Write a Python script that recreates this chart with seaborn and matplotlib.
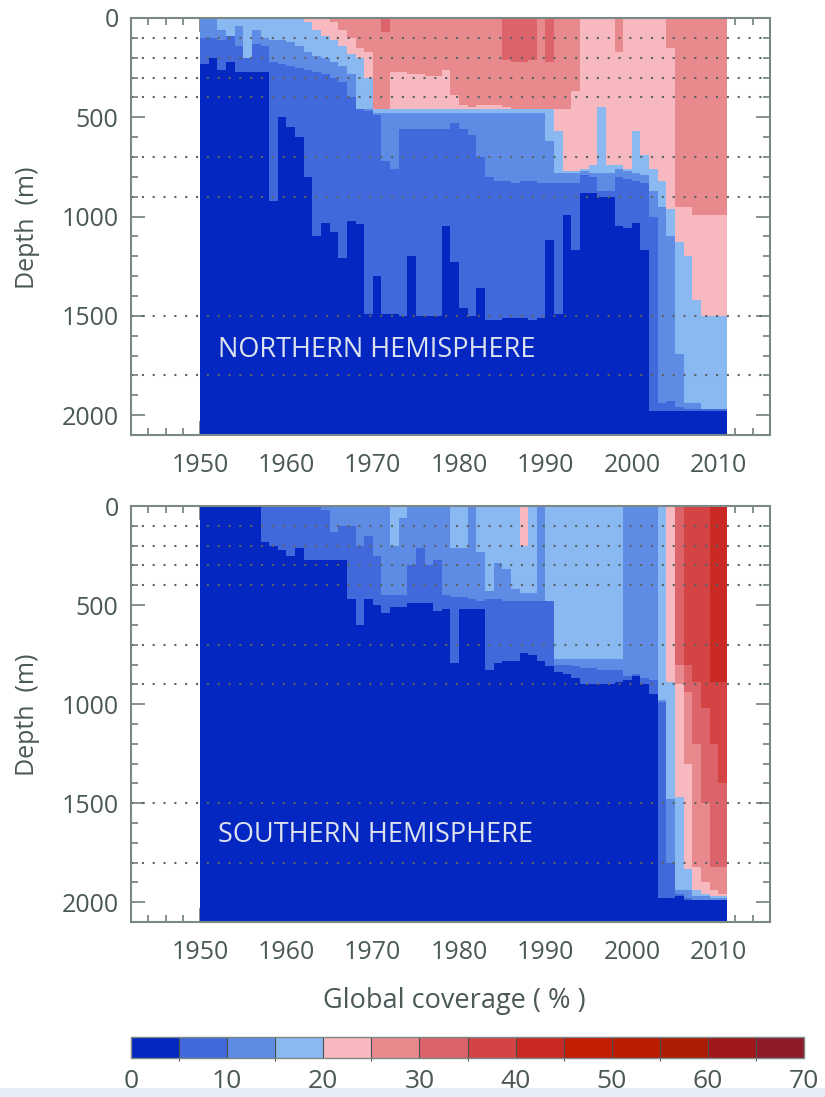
import numpy as np
import pandas as pd
import seaborn as sns
import matplotlib.pyplot as plt
from matplotlib.colors import ListedColormap, BoundaryNorm
from matplotlib.patches import Rectangle

years = list(range(1950, 2011))
x_start, x_end = 1942, 2016
depth_ticks = [0, 500, 1000, 1500, 2000]
dotted_depths = [100, 200, 300, 400, 700, 900, 1500, 1800]
class_edges = list(range(0, 75, 5))
cbar_ticks = [0, 10, 20, 30, 40, 50, 60, 70]
colors = ['#0327c0', '#4169db', '#5e8be3', '#8ab8f0', '#f7b8c0', '#e8898e',
          '#dc636a', '#d44444', '#c92a24', '#c51d02', '#ba1c00', '#ad1c04',
          '#a0181a', '#8e1a2a']

# northern hemisphere: depth (m) down to which coverage stays >= 5, 10, 15 ... %
nh_5 = [233, 205, 263, 222, 275, 275, 275, 275, 917, 500,
        550, 600, 800, 1105, 1026, 1076, 1206, 1018, 1038, 1488,
        1300, 1488, 1488, 1496, 1199, 1496, 1496, 1505, 1048, 1228,
        1461, 1504, 1365, 1524, 1518, 1512, 1510, 1512, 1518, 1512,
        1119, 1488, 993, 1169, 885, 885, 905, 905, 1048, 1065,
        1026, 1169, 1978, 1978, 1978, 1978, 1980, 1980, 1980, 1980, 1980]
nh_10 = [100, 100, 110, 90, 140, 200, 130, 140, 220, 230,
         240, 250, 260, 270, 280, 300, 320, 400, 460, 470,
         490, 720, 760, 560, 560, 560, 560, 560, 560, 530,
         560, 590, 700, 800, 820, 820, 830, 820, 820, 830,
         830, 830, 830, 830, 790, 800, 870, 870, 800, 810,
         820, 830, 1000, 1940, 1930, 1960, 1970, 1970, 1975, 1975, 1975]
nh_15 = [0, 0, 60, 90, 40, 200, 60, 100, 110, 110,
         120, 140, 170, 190, 200, 220, 240, 280, 460, 465,
         480, 480, 485, 485, 485, 485, 485, 485, 485, 485,
         485, 485, 485, 485, 485, 485, 485, 485, 485, 485,
         620, 780, 780, 780, 770, 780, 780, 780, 760, 770,
         780, 790, 870, 950, 1100, 1690, 1940, 1940, 1975, 1975, 1975]
nh_20 = [0, 0, 0, 0, 0, 0, 0, 0, 0, 0,
         0, 0, 20, 60, 90, 110, 140, 180, 200, 300,
         460, 460, 460, 460, 460, 460, 460, 460, 460, 460,
         460, 460, 460, 460, 460, 460, 460, 460, 460, 460,
         465, 575, 770, 770, 760, 740, 450, 740, 740, 760,
         570, 690, 760, 820, 960, 1135, 1200, 1420, 1505, 1505, 1505]
nh_25 = [0, 0, 0, 0, 0, 0, 0, 0, 0, 0,
         0, 0, 0, 0, 0, 20, 60, 100, 150, 170,
         460, 460, 270, 270, 280, 280, 290, 290, 260, 390,
         440, 450, 445, 440, 445, 450, 460, 460, 460, 460,
         460, 460, 460, 370, 0, 0, 0, 0, 170, 0,
         0, 0, 0, 0, 150, 950, 950, 990, 990, 990, 990]
nh_30 = [0, 0, 0, 0, 0, 0, 0, 0, 0, 0,
         0, 0, 0, 0, 0, 0, 0, 0, 0, 0,
         0, 75, 0, 0, 0, 0, 0, 0, 0, 0,
         0, 0, 0, 0, 0, 210, 220, 220, 210, 0,
         225, 0, 0, 0, 0, 0, 0, 0, 0, 0,
         0, 0, 0, 0, 0, 0, 0, 0, 0, 0, 0]

# southern hemisphere
sh_5 = [0, 0, 0, 0, 0, 0, 0, 185, 205, 222,
        248, 210, 273, 273, 273, 273, 273, 475, 601, 475,
        500, 542, 509, 509, 492, 492, 487, 534, 517, 795,
        525, 525, 525, 828, 786, 778, 778, 736, 753, 778,
        812, 837, 854, 871, 896, 904, 896, 896, 887, 879,
        854, 900, 950, 1981, 1981, 1975, 1990, 1995, 1995, 1995, 1995]
sh_10 = [0, 0, 0, 0, 0, 0, 0, 0, 0, 0,
         0, 0, 0, 0, 20, 130, 96, 96, 197, 146,
         248, 450, 450, 450, 298, 214, 298, 270, 450, 458,
         460, 470, 480, 470, 475, 480, 480, 480, 480, 480,
         485, 800, 800, 810, 820, 820, 830, 830, 830, 860,
         860, 870, 880, 990, 1800, 1960, 1980, 1990, 1990, 1990, 1990]
sh_15 = [0, 0, 0, 0, 0, 0, 0, 0, 0, 0,
         0, 0, 0, 0, 0, 0, 0, 0, 0, 0,
         0, 0, 205, 60, 0, 0, 0, 0, 0, 214,
         214, 0, 230, 433, 290, 320, 420, 440, 440, 0,
         483, 770, 770, 770, 770, 770, 770, 770, 770, 0,
         0, 0, 0, 985, 1480, 1940, 1940, 1970, 1975, 1980, 1985]
sh_20 = [0, 0, 0, 0, 0, 0, 0, 0, 0, 0,
         0, 0, 0, 0, 0, 0, 0, 0, 0, 0,
         0, 0, 0, 0, 0, 0, 0, 0, 0, 0,
         0, 0, 0, 0, 0, 0, 0, 205, 0, 0,
         0, 0, 0, 0, 0, 0, 0, 0, 0, 0,
         0, 0, 0, 0, 890, 1468, 1830, 1939, 1960, 1970, 1975]
sh_25 = [0] * 55 + [900, 1300, 1822, 1900, 1939, 1956]
sh_30 = [0] * 55 + [803, 940, 1198, 1500, 1822, 1822]
sh_35 = [0] * 55 + [0, 800, 887, 1022, 1198, 1401]
sh_40 = [0] * 55 + [0, 0, 0, 0, 887, 887]

text_col = '#4a5858'
axis_col = '#7b8888'

sns.set_style('white')
plt.rcParams['font.family'] = ['Open Sans', 'DejaVu Sans']

cmap = ListedColormap(colors)
norm = BoundaryNorm(class_edges, len(colors))


def coverage_grid(limits):
    depth = np.arange(5, 2100, 10)
    cols = list(range(x_start, x_end))
    grid = np.full((len(depth), len(cols)), np.nan)
    for i, yr in enumerate(years):
        n = np.zeros(len(depth))
        for lim in limits:
            n += depth < lim[i]
        grid[:, yr - x_start] = 2.5 + 5 * n
    return pd.DataFrame(grid, index=depth, columns=cols)


def draw_panel(ax, df):
    sns.heatmap(df, ax=ax, cmap=cmap, norm=norm, cbar=False,
                xticklabels=False, yticklabels=False)
    for s in ax.spines.values():
        s.set_visible(True)
        s.set_color(axis_col)
        s.set_linewidth(1.5)
    ax.hlines([d / 10 for d in dotted_depths], 0, x_end - x_start,
              colors='#5a6464', linestyles=(0, (1, 4.2)), linewidth=1.5)
    ax.set_xlim(0, x_end - x_start)
    ax.set_ylim(210, 0)
    ax.set_xticks([y - x_start for y in range(1950, 2011, 10)])
    ax.set_xticklabels([str(y) for y in range(1950, 2011, 10)])
    ax.set_xticks(np.arange(0, x_end - x_start + 1, 2), minor=True)
    ax.set_yticks([d / 10 for d in depth_ticks])
    ax.set_yticklabels([str(d) for d in depth_ticks])
    ax.set_yticks(np.arange(0, 211, 10), minor=True)
    ax.tick_params(which='both', direction='in', top=True, right=True,
                   bottom=True, left=True, color=axis_col, width=1.3,
                   labelcolor=text_col, labelsize=18)
    ax.tick_params(which='major', length=10)
    ax.tick_params(which='minor', length=5)
    ax.tick_params(axis='x', which='major', pad=13)
    ax.tick_params(axis='y', which='major', pad=9)
    ax.set_xlabel('')
    ax.set_ylabel('')


fig = plt.figure(figsize=(8.25, 10.97), dpi=100)
ax1 = fig.add_axes([0.1588, 0.6035, 0.7745, 0.3801])
ax2 = fig.add_axes([0.1588, 0.1595, 0.7745, 0.3792])

draw_panel(ax1, coverage_grid([nh_5, nh_10, nh_15, nh_20, nh_25, nh_30]))
draw_panel(ax2, coverage_grid([sh_5, sh_10, sh_15, sh_20, sh_25, sh_30, sh_35, sh_40]))

fig.text(218 / 825, 1 - 350 / 1097, 'NORTHERN HEMISPHERE', color='#dde3ee',
         fontsize=19.5, va='center', ha='left')
fig.text(218 / 825, 1 - 835 / 1097, 'SOUTHERN HEMISPHERE', color='#dde3ee',
         fontsize=19.5, va='center', ha='left')
fig.text(28 / 825, 1 - 228 / 1097, 'Depth  (m)', color=text_col, fontsize=18,
         rotation=90, va='center', ha='center')
fig.text(28 / 825, 1 - 715 / 1097, 'Depth  (m)', color=text_col, fontsize=18,
         rotation=90, va='center', ha='center')
fig.text(454 / 825, 1 - 1001 / 1097, 'Global coverage ( % )', color=text_col,
         fontsize=19.5, va='center', ha='center')

cax = fig.add_axes([0.1588, 0.0356, 0.8158, 0.0191])
cb = fig.colorbar(ax1.collections[0], cax=cax, orientation='horizontal',
                  ticks=cbar_ticks, drawedges=True)
cb.outline.set_edgecolor(axis_col)
cb.outline.set_linewidth(1)
cb.dividers.set_color('#4a5050')
cb.dividers.set_linewidth(0.8)
cax.tick_params(length=0, labelsize=19, pad=8, labelcolor=text_col)

fig.add_artist(Rectangle((0, 0), 1, 9 / 1097, transform=fig.transFigure,
                         facecolor='#e6edf7', edgecolor='none', zorder=-1))

fig.savefig('out.png', dpi=100)
